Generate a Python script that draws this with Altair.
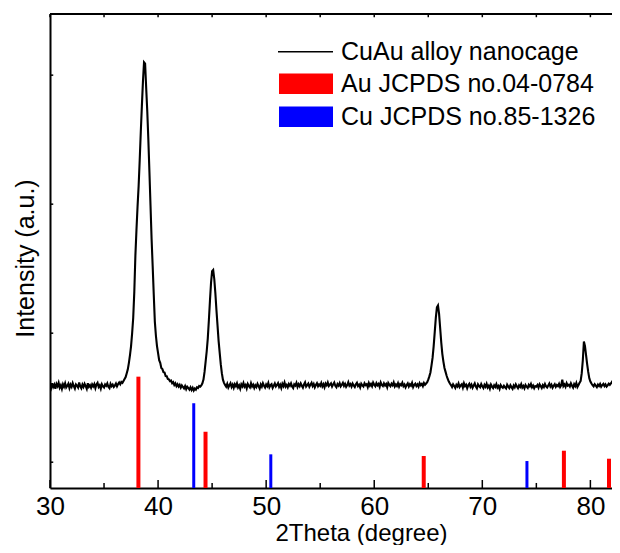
import altair as alt
import numpy as np
import pandas as pd

# ---------------- data ----------------
# 2theta scan grid (0.1 degree step, 30.0 ... 82.4)
two_theta = np.round(30.0 + 0.1 * np.arange(525), 1)

# intensity (a.u.), one row per degree (x.0 ... x.9)
intensity_rows = [
    [598, 575, 612, 583, 601, 570, 607, 589, 616, 578],  # 30
    [596, 568, 604, 585, 611, 579, 592, 608, 574, 601],  # 31
    [584, 613, 590, 571, 603, 594, 579, 617, 588, 573],  # 32
    [602, 583, 607, 589, 569, 612, 584, 597, 577, 603],  # 33
    [588, 606, 574, 602, 615, 583, 596, 570, 604, 587],  # 34
    [579, 603, 592, 611, 584, 574, 607, 589, 601, 583],  # 35
    [594, 610, 588, 606, 618, 604, 622, 615, 630, 645],  # 36
    [660, 690, 720, 770, 830, 900, 1000, 1120, 1320, 1600],  # 37
    [1800, 1980, 2140, 2340, 2560, 2760, 2950, 3100, 3090, 2900],  # 38
    [2720, 2500, 2250, 1990, 1730, 1520, 1300, 1090, 980, 900],  # 39
    [845, 790, 770, 730, 722, 698, 695, 668, 667, 645],  # 40
    [642, 628, 633, 612, 620, 598, 611, 590, 604, 586],  # 41
    [600, 578, 595, 583, 572, 590, 566, 585, 575, 562],  # 42
    [580, 560, 576, 555, 571, 562, 580, 575, 590, 585],  # 43
    [595, 612, 640, 700, 780, 860, 960, 1100, 1250, 1390],  # 44
    [1480, 1490, 1420, 1310, 1180, 1060, 940, 850, 760, 690],  # 45
    [640, 615, 598, 585, 607, 578, 596, 612, 583, 601],  # 46
    [576, 604, 589, 611, 580, 595, 570, 603, 588, 614],  # 47
    [585, 598, 572, 606, 590, 579, 612, 587, 601, 575],  # 48
    [596, 583, 608, 590, 571, 603, 586, 612, 593, 579],  # 49
    [602, 588, 614, 581, 597, 605, 576, 593, 610, 587],  # 50
    [598, 613, 584, 600, 575, 608, 590, 617, 586, 599],  # 51
    [580, 606, 592, 611, 587, 575, 603, 594, 615, 583],  # 52
    [604, 589, 611, 593, 578, 602, 618, 586, 597, 609],  # 53
    [584, 601, 615, 590, 606, 580, 598, 612, 589, 603],  # 54
    [592, 614, 587, 604, 580, 609, 596, 618, 590, 601],  # 55
    [611, 586, 603, 617, 592, 581, 606, 594, 613, 588],  # 56
    [600, 615, 591, 607, 584, 598, 620, 593, 605, 586],  # 57
    [610, 595, 583, 604, 616, 590, 601, 579, 608, 596],  # 58
    [587, 612, 598, 605, 582, 614, 593, 606, 588, 617],  # 59
    [600, 589, 613, 596, 607, 584, 618, 599, 590, 611],  # 60
    [595, 606, 581, 614, 600, 589, 609, 596, 618, 587],  # 61
    [603, 591, 612, 585, 605, 597, 616, 590, 602, 580],  # 62
    [598, 611, 587, 604, 593, 615, 582, 600, 609, 590],  # 63
    [603, 586, 612, 597, 607, 589, 614, 600, 610, 620],  # 64
    [640, 665, 695, 750, 810, 900, 1010, 1120, 1200, 1215],  # 65
    [1150, 1040, 930, 840, 780, 730, 700, 670, 645, 625],  # 66
    [610, 598, 583, 604, 591, 576, 600, 587, 610, 582],  # 67
    [595, 604, 578, 612, 589, 600, 573, 596, 608, 584],  # 68
    [601, 577, 594, 610, 586, 572, 603, 590, 581, 606],  # 69
    [588, 575, 599, 584, 607, 579, 593, 570, 602, 586],  # 70
    [574, 596, 583, 605, 578, 590, 568, 598, 584, 577],  # 71
    [592, 580, 571, 601, 586, 575, 597, 582, 569, 594],  # 72
    [580, 603, 587, 574, 596, 583, 605, 578, 591, 572],  # 73
    [598, 585, 576, 600, 588, 607, 581, 594, 573, 590],  # 74
    [586, 599, 578, 604, 591, 575, 597, 583, 606, 588],  # 75
    [579, 595, 610, 586, 600, 577, 593, 605, 584, 598],  # 76
    [589, 607, 582, 596, 640, 590, 603, 585, 612, 594],  # 77
    [600, 586, 611, 593, 578, 605, 590, 614, 583, 599],  # 78
    [615, 630, 690, 790, 935, 900, 830, 760, 700, 650],  # 79
    [625, 610, 598, 588, 605, 594, 582, 601, 590, 606],  # 80
    [585, 598, 607, 590, 603, 586, 596, 609, 600, 611],  # 81
    [622, 637, 650, 666, 680],  # 82
]
intensity = [v for row in intensity_rows for v in row]

# reference patterns (position, stick height)
au_pos = [38.18, 44.39, 64.58, 77.55, 81.72]
au_int = [663, 236, 48, 89, 27]
cu_pos = [43.30, 50.43, 74.13]
cu_int = [457, 61, 9]

legend_labels = ["CuAu alloy nanocage", "Au JCPDS no.04-0784", "Cu JCPDS no.85-1326"]
x_label_values = [30, 40, 50, 60, 70, 80]
x_minor_values = [35, 45, 55, 65, 75]
x_top_values = [30, 35, 40, 45, 50, 55, 60, 65, 70, 75, 80]
y_tick_values = [0, 1000, 2000, 3000]

# ---------------- chart ----------------
X_MIN, X_MAX = 30, 82.0
Y_MIN, Y_MAX = -200, 3474
W, H = 562, 474
FONT = "Liberation Sans"
RED, BLUE = "#ff0000", "#0000ff"

xs = alt.Scale(domain=[X_MIN, X_MAX], nice=False, zero=False)
ys = alt.Scale(domain=[Y_MIN, Y_MAX], nice=False, zero=False)

xrd_df = pd.DataFrame({"t": two_theta, "i": intensity})

curve = alt.Chart(xrd_df).mark_line(color="black", strokeWidth=2.1, clip=True).encode(
    x=alt.X("t:Q", scale=xs, axis=alt.Axis(
        title="2Theta (degree)", values=x_label_values, ticks=False, grid=False,
        domainColor="black", domainWidth=2, labelFont=FONT, labelFontSize=26,
        labelColor="black", labelPadding=5, labelFlush=False, labelOverlap=False,
        titleFont=FONT, titleFontSize=24, titleFontWeight="normal", titleColor="black",
        titleX=311, titleY=52, titleAlign="center", titleBaseline="alphabetic")),
    y=alt.Y("i:Q", scale=ys, axis=alt.Axis(
        title="Intensity (a.u.)", labels=False, ticks=False, grid=False,
        domainColor="black", domainWidth=2,
        titleFont=FONT, titleFontSize=25, titleFontWeight="normal", titleColor="black",
        titleX=-25, titleY=244, titleAlign="center", titleBaseline="middle", titleAngle=270)),
)

au_df = pd.DataFrame({"p": au_pos, "h": au_int, "b": Y_MIN})
cu_df = pd.DataFrame({"p": cu_pos, "h": cu_int, "b": Y_MIN})

au_sticks = alt.Chart(au_df).mark_rule(color=RED, strokeWidth=4, strokeCap="butt").encode(
    x=alt.X("p:Q", scale=xs), y=alt.Y("h:Q", scale=ys), y2="b:Q")
cu_sticks = alt.Chart(cu_df).mark_rule(color=BLUE, strokeWidth=3, strokeCap="butt").encode(
    x=alt.X("p:Q", scale=xs), y=alt.Y("h:Q", scale=ys), y2="b:Q")

# inward ticks (axis decoration)
maj_df = pd.DataFrame({"x": x_label_values, "a": Y_MIN, "b": Y_MIN + 62})
min_df = pd.DataFrame({"x": x_minor_values, "a": Y_MIN, "b": Y_MIN + 39})
top_df = pd.DataFrame({"x": x_top_values, "a": Y_MAX, "b": Y_MAX - 25})
lt_df = pd.DataFrame({"y": y_tick_values, "a": X_MIN, "b": X_MIN + 0.3})

tick_style = dict(color="black", strokeWidth=1.5)
maj_ticks = alt.Chart(maj_df).mark_rule(**tick_style).encode(
    x=alt.X("x:Q", scale=xs), y=alt.Y("a:Q", scale=ys), y2="b:Q")
min_ticks = alt.Chart(min_df).mark_rule(**tick_style).encode(
    x=alt.X("x:Q", scale=xs), y=alt.Y("a:Q", scale=ys), y2="b:Q")
top_ticks = alt.Chart(top_df).mark_rule(**tick_style).encode(
    x=alt.X("x:Q", scale=xs), y=alt.Y("a:Q", scale=ys), y2="b:Q")
left_ticks = alt.Chart(lt_df).mark_rule(**tick_style).encode(
    y=alt.Y("y:Q", scale=ys), x=alt.X("a:Q", scale=xs), x2="b:Q")

one = pd.DataFrame({"k": [0]})
top_frame = alt.Chart(one).mark_rule(color="black", strokeWidth=2).encode(
    x=alt.value(0), x2=alt.value(W), y=alt.value(0))

# legend
leg_line = alt.Chart(one).mark_rule(color="black", strokeWidth=1.5).encode(
    x=alt.value(228), x2=alt.value(283), y=alt.value(37.7))
leg_red = alt.Chart(one).mark_rect(color=RED).encode(
    x=alt.value(229), x2=alt.value(283), y=alt.value(59.5), y2=alt.value(80))
leg_blue = alt.Chart(one).mark_rect(color=BLUE).encode(
    x=alt.value(229), x2=alt.value(283), y=alt.value(92.5), y2=alt.value(113))

def leg_text(i, yc):
    d = pd.DataFrame({"label": [legend_labels[i]]})
    return alt.Chart(d).mark_text(font=FONT, fontSize=25, color="black", align="left",
                                  baseline="alphabetic").encode(
        text="label:N", x=alt.value(291), y=alt.value(yc))

legend = leg_line + leg_red + leg_blue + leg_text(0, 46) + leg_text(1, 78) + leg_text(2, 110.5)

chart = alt.layer(
    curve, au_sticks, cu_sticks, maj_ticks, min_ticks, top_ticks, left_ticks, top_frame, legend
).properties(
    width=W, height=H,
    autosize=alt.AutoSizeParams(type="none"),
    padding={"left": 42, "top": 6, "right": 0, "bottom": 57},
    background="white",
).configure_view(stroke=None)

chart.save("out.html", embed_options={"renderer": "svg", "actions": False})
